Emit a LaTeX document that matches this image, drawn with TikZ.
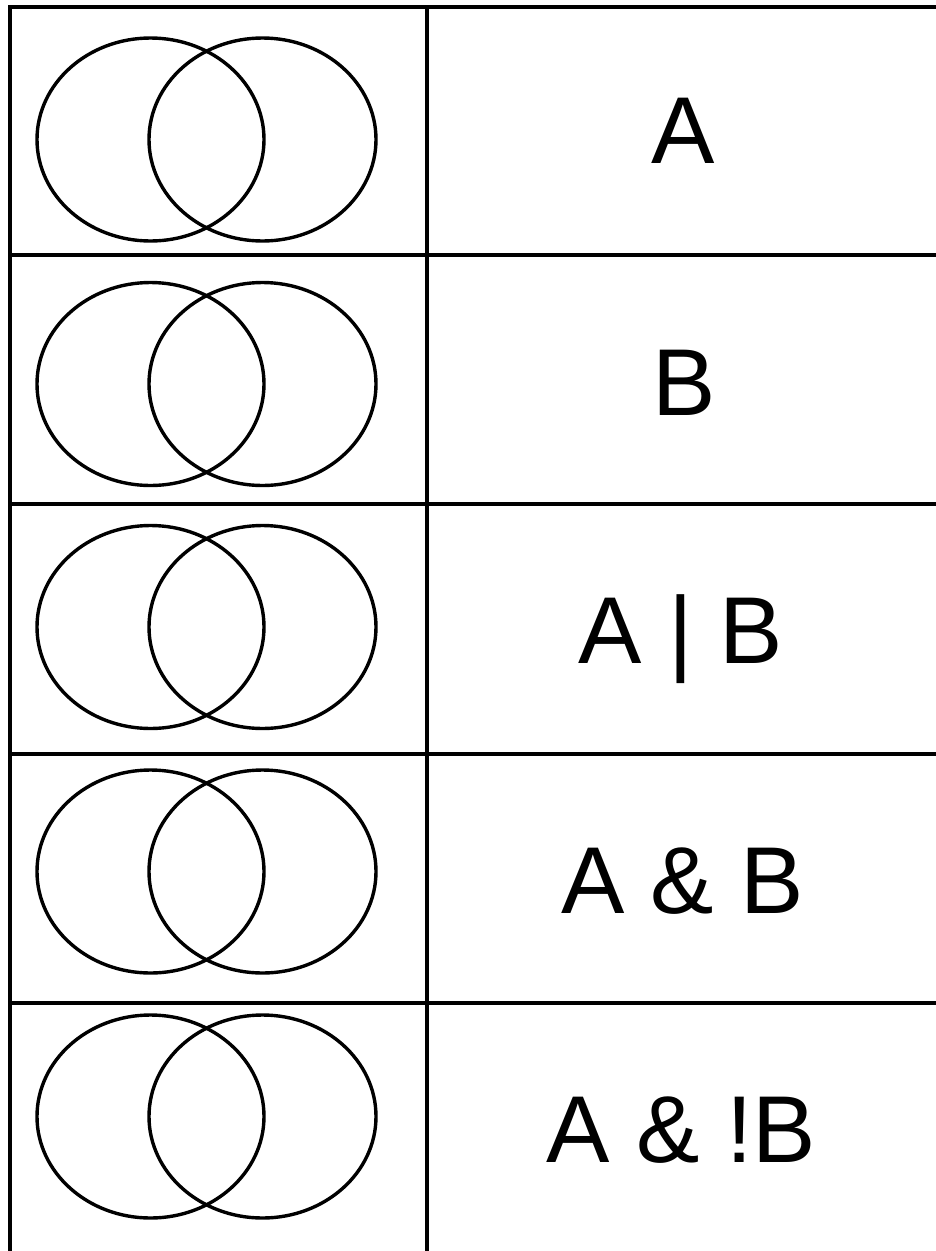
\documentclass[tikz,border=0pt]{standalone}
\usepackage{fontspec}
\setmainfont{Liberation Sans}
\begin{document}
\begin{tikzpicture}[x=1pt,y=-1pt,
  rule/.style={line width=3.2pt, black},
  venn/.style={line width=3.4pt, black},
  label/.style={anchor=base, inner sep=0pt, font=\fontsize{95}{100}\selectfont}]
\useasboundingbox (0,0) rectangle (936,1251);
% table rules
\foreach \y in {7,255,504,754,1003} {
  \draw[rule] (8.4,\y) -- (936,\y);
}
\draw[rule] (10,5.4) -- (10,1251);
\draw[rule] (427,5.4) -- (427,1251);
% venn diagrams
\foreach \cy in {139.5,384,627,871.5,1116.5} {
  \draw[venn] (150.5,\cy) ellipse [x radius=113.5, y radius=101.5];
  \draw[venn] (262.5,\cy) ellipse [x radius=113.5, y radius=101.5];
}
% labels
\node[label] (l1) at (683.5,163) {A};
\node[label] (l2) at (684,415) {B};
\node[label] (l3) at (681,663) {A | B};
\node[label] (l4) at (682.5,913) {A \& B};
\node[label] (l5) at (681.5,1162) {A \& !B};
\end{tikzpicture}
\end{document}
